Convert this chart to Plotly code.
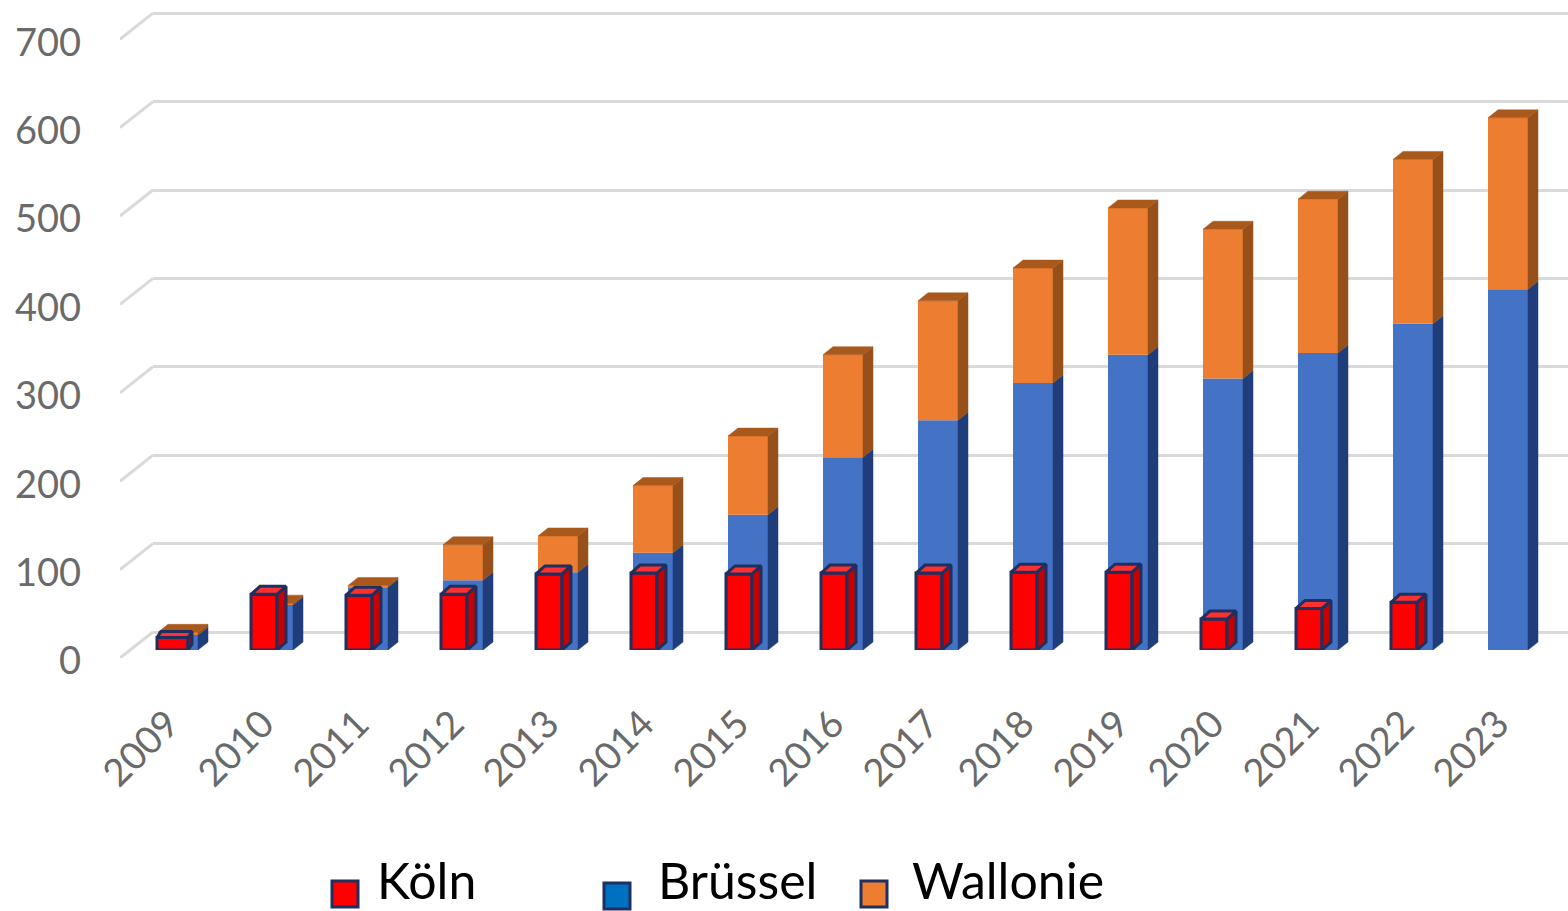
import plotly.graph_objects as go

# ---- data ----
years = ["2009", "2010", "2011", "2012", "2013", "2014", "2015", "2016",
         "2017", "2018", "2019", "2020", "2021", "2022", "2023"]
koeln = [14, 63, 62, 63, 86, 87, 86, 87, 87, 88, 88, 35, 47, 54, 0]
bruessel = [17, 51, 71, 79, 88, 110, 153, 218, 260, 302, 334, 307, 336, 369, 408]
wallonie = [3, 2, 2, 40, 41, 76, 89, 116, 135, 130, 166, 169, 174, 186, 194]
y_ticks = [0, 100, 200, 300, 400, 500, 600, 700]

# ---- page geometry (pixels of the 1568x911 page) ----
W, H = 1568, 911
PX_PER_UNIT = 0.884   # vertical pixels per value unit
PX_PER_CAT = 95.0     # horizontal pixels per year
X0_PX = 178.0         # pixel position of the first year
BAR_BASE = 650        # pixel row of the bars' value 0
WALL_BASE = 632       # pixel row of the back wall's value 0
LABEL_BASE = 658      # pixel row of the front edge's value 0
WALL_LEFT = 153
FRONT_LEFT = 120

xs = list(range(len(years)))
x_range = [-X0_PX / PX_PER_CAT, (W - X0_PX) / PX_PER_CAT]
u = lambda px: px / PX_PER_CAT   # horizontal pixels -> category units
v = lambda px: px / PX_PER_UNIT  # vertical pixels -> value units

BAR_W, BAR_DX, BAR_DY = 40, 10, 8
K_W = [31] + [26] * 14
K_CENTER = [-5.5] + [-9] * 14
K_DX = [4] + [9] * 14
K_DY = [6] + [8] * 14

BLUE, BLUE_SIDE = "#4472c4", "#1f3d7a"
ORANGE, ORANGE_SIDE, ORANGE_TOP = "#ed7d31", "#97501a", "#a9591c"
RED, RED_SIDE, RED_TOP = "#ff0000", "#c80000", "#ff3030"
NAVY = "#1f2f5f"
GRID = "#dadada"
TEXT = "#6a6a6a"
FONT = "Lato"


def poly(pts_list):
    px, py = [], []
    for pts in pts_list:
        for a, b in pts:
            px.append(a)
            py.append(b)
        px.append(pts[0][0])
        py.append(pts[0][1])
        px.append(None)
        py.append(None)
    return px, py


def side(i, lo, hi, center, w, dx, dy):
    r = i + u(center + w / 2)
    return [(r, lo), (r + u(dx), lo + v(dy)), (r + u(dx), hi + v(dy)), (r, hi)]


def top(i, hi, center, w, dx, dy):
    l, r = i + u(center - w / 2), i + u(center + w / 2)
    return [(l, hi), (r, hi), (r + u(dx), hi + v(dy)), (l + u(dx), hi + v(dy))]


def face(pts_list, color, xa, ya, line=None, lw=0):
    px, py = poly(pts_list)
    return go.Scatter(x=px, y=py, xaxis=xa, yaxis=ya, mode="lines", fill="toself",
                      fillcolor=color, line=dict(color=line or color, width=lw or 0.5),
                      hoverinfo="skip", showlegend=False)


fig = go.Figure()

# --- back wall grid (subplot 1); needs a trace so that its axes exist
fig.add_trace(go.Scatter(x=[0], y=[0], xaxis="x", yaxis="y", mode="markers",
                         marker=dict(opacity=0), hoverinfo="skip", showlegend=False))

# --- stacked bars (subplot 2)
totals = [b + w for b, w in zip(bruessel, wallonie)]
fig.add_trace(go.Bar(x=xs, y=bruessel, name="Brüssel", xaxis="x2", yaxis="y2",
                     width=BAR_W / PX_PER_CAT, marker=dict(color=BLUE, line=dict(width=0)),
                     showlegend=False))
fig.add_trace(go.Bar(x=xs, y=wallonie, base=bruessel, name="Wallonie", xaxis="x2", yaxis="y2",
                     width=BAR_W / PX_PER_CAT, marker=dict(color=ORANGE, line=dict(width=0)),
                     showlegend=False))
fig.add_trace(face([side(i, 0, bruessel[i], 0, BAR_W, BAR_DX, BAR_DY) for i in xs],
                   BLUE_SIDE, "x2", "y2"))
fig.add_trace(face([side(i, bruessel[i], totals[i], 0, BAR_W, BAR_DX, BAR_DY) for i in xs],
                   ORANGE_SIDE, "x2", "y2"))
fig.add_trace(face([top(i, totals[i], 0, BAR_W, BAR_DX, BAR_DY) for i in xs],
                   ORANGE_TOP, "x2", "y2"))

# --- Köln bars in front (subplot 3); years without a Köln value get no bar
k_idx = [i for i in xs if koeln[i] > 0]
fig.add_trace(go.Bar(x=[xs[i] for i in k_idx], y=[koeln[i] for i in k_idx], name="Köln",
                     xaxis="x3", yaxis="y3",
                     width=[K_W[i] / PX_PER_CAT for i in k_idx],
                     offset=[(K_CENTER[i] - K_W[i] / 2) / PX_PER_CAT for i in k_idx],
                     marker=dict(color=RED, line=dict(color=NAVY, width=3)),
                     cliponaxis=False, showlegend=False))
fig.add_trace(face([side(i, 0, koeln[i], K_CENTER[i], K_W[i], K_DX[i], K_DY[i]) for i in k_idx],
                   RED_SIDE, "x3", "y3", NAVY, 3))
fig.add_trace(face([top(i, koeln[i], K_CENTER[i], K_W[i], K_DX[i], K_DY[i]) for i in k_idx],
                   RED_TOP, "x3", "y3", NAVY, 3))

# --- slanted left wall lines + value labels (subplot 4)
dx_vals, dy_vals = [], []
for t in y_ticks:
    dx_vals += [0, 1, None]
    dy_vals += [t, t + v(LABEL_BASE - WALL_BASE), None]
fig.add_trace(go.Scatter(x=dx_vals, y=dy_vals, xaxis="x4", yaxis="y4", mode="lines",
                         line=dict(color=GRID, width=3), hoverinfo="skip", showlegend=False))

hidden = dict(visible=False, showgrid=False, zeroline=False)
fig.update_layout(
    width=W, height=H,
    autosize=False,
    paper_bgcolor="white", plot_bgcolor="rgba(0,0,0,0)",
    margin=dict(l=0, r=0, t=0, b=0, pad=0, autoexpand=False),
    barmode="overlay",
    showlegend=False,
    xaxis=dict(domain=[WALL_LEFT / W, 1], range=[0, 1], fixedrange=True, **hidden),
    yaxis=dict(domain=[0, 1], range=[-v(H - WALL_BASE), v(WALL_BASE)], tickvals=y_ticks,
               showgrid=True, gridcolor=GRID, gridwidth=3, zeroline=False,
               showticklabels=False, showline=False, ticks="", anchor="x"),
    xaxis2=dict(domain=[0, 1], range=x_range, tickmode="array", tickvals=xs, ticktext=years,
                tickangle=-45, tickfont=dict(family=FONT, size=38, color=TEXT),
                ticks="", ticklabelstandoff=43, ticklabelshift=-10, showgrid=False,
                zeroline=False, showline=False, anchor="y2"),
    yaxis2=dict(domain=[(H - BAR_BASE) / H, 1], range=[0, v(BAR_BASE)], visible=False,
                showgrid=False, zeroline=False, anchor="x2"),
    xaxis3=dict(domain=[0, 1], range=x_range, visible=False, anchor="y3"),
    yaxis3=dict(domain=[(H - BAR_BASE) / H, 1], range=[0, v(BAR_BASE)], visible=False,
                anchor="x3"),
    xaxis4=dict(domain=[FRONT_LEFT / W, WALL_LEFT / W], range=[0, 1], visible=False, anchor="y4"),
    yaxis4=dict(domain=[(H - LABEL_BASE) / H, 1], range=[0, v(LABEL_BASE)], tickvals=y_ticks,
                tickfont=dict(family=FONT, size=38, color=TEXT), ticks="",
                ticklabelstandoff=38, ticklabelshift=3, showgrid=False, zeroline=False,
                showline=False, anchor="x4"),
)

# --- legend keys and labels
legend_items = [("Köln", RED, 332, 881, 377, 880),
                ("Brüssel", "#0070c0", 604, 883, 658, 880),
                ("Wallonie", ORANGE, 861, 881, 912, 880)]
for label, color, kx, ky, tx, ty in legend_items:
    fig.add_shape(type="rect", xref="paper", yref="paper",
                  x0=kx / W, x1=(kx + 26) / W, y0=1 - ky / H, y1=1 - (ky + 26) / H,
                  fillcolor=color, line=dict(color=NAVY, width=3))
    fig.add_annotation(text=label, xref="paper", yref="paper", x=tx / W, y=1 - ty / H,
                       xanchor="left", yanchor="middle", showarrow=False,
                       borderpad=0, borderwidth=0,
                       font=dict(family=FONT, size=50, color="#000000"))

fig.write_html("out.html", config=dict(displayModeBar=False),
               post_script="document.body.style.margin='0';document.documentElement.style.overflow='hidden';")
